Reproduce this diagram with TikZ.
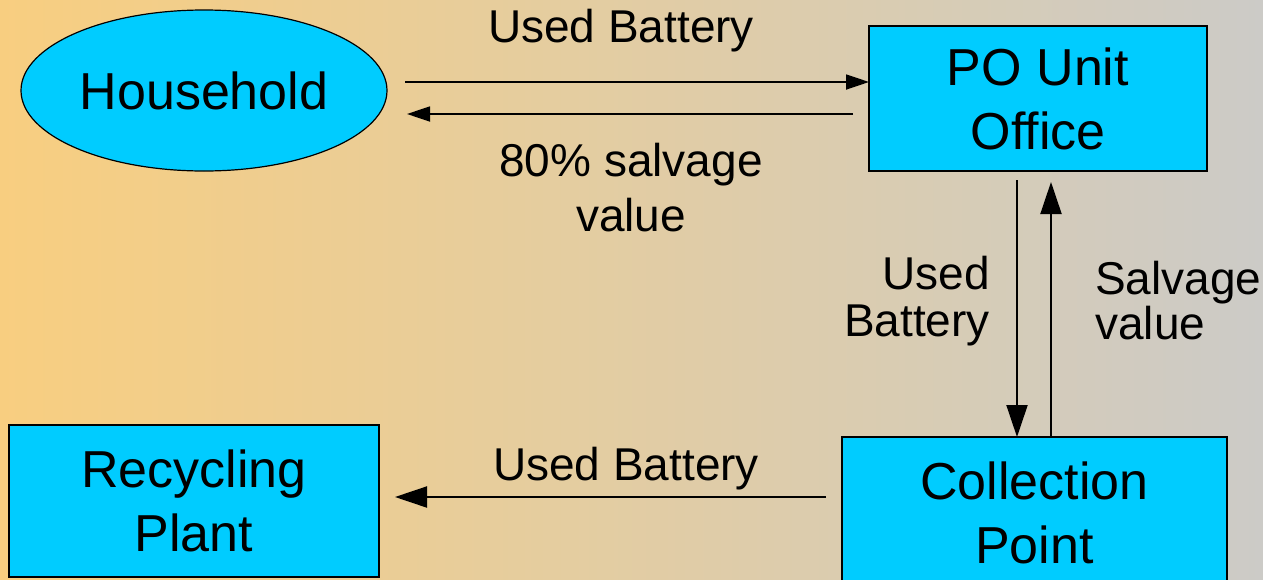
\documentclass[tikz,border=0pt]{standalone}
\usepackage{fontspec}
\setmainfont{Liberation Sans}
\usetikzlibrary{arrows.meta,calc,shapes.geometric}
\definecolor{bgL}{RGB}{248,206,128}
\definecolor{bgR}{RGB}{204,203,199}
\definecolor{boxfill}{RGB}{0,204,255}
\begin{document}
\begin{tikzpicture}[x=1pt,y=-1pt,
  box/.style={draw=black,line width=2.2pt,fill=boxfill,align=center,inner sep=0pt,outer sep=0pt,
    font=\fontsize{52}{64}\selectfont},
  oval/.style={ellipse,draw=black,line width=1.2pt,fill=boxfill,inner sep=0pt,outer sep=0pt,
    font=\fontsize{52}{64}\selectfont},
  lab/.style={inner sep=0pt,font=\fontsize{46}{55}\selectfont},
  arrS/.style={line width=1.8pt,-{Triangle[length=23pt,width=15pt]}},
  arrL/.style={line width=2pt,-{Triangle[length=32pt,width=21pt]}}]
\shade[left color=bgL,right color=bgR] (0,0) rectangle (1263,579);
\useasboundingbox (0,0) rectangle (1263,579);
\clip (0,0) rectangle (1263,579);

\node[oval,minimum width=366pt,minimum height=161pt] (hh) at (204,90.5) {Household};
\node[box,minimum width=338pt,minimum height=145pt] (po) at (1038,98.5) {PO Unit\\Office};
\node[box,minimum width=385pt,minimum height=152pt] (cp) at (1034.5,513) {Collection\\Point};
\node[box,minimum width=370pt,minimum height=152pt] (rp) at (194,501) {Recycling\\Plant};

\node[lab,anchor=base] (l1) at (621,42) {Used Battery};
\node[lab,align=center] (l2) at (631,188) {80\% salvage\\value};
\node[lab,align=right,anchor=east,font=\fontsize{46}{47}\selectfont] (l3) at (990,301.5) {Used\\Battery};
\node[lab,align=left,anchor=west,font=\fontsize{46}{45}\selectfont] (l4) at (1095,300.7) {Salvage\\value};
\node[lab,anchor=base] (l5) at (626,480) {Used Battery};

\draw[arrS] ($(hh.east)+(18,-8.5)$) -- ($(po.west)+(0,-16.5)$);
\draw[arrS] ($(po.west)+(-16,15.5)$) -- ($(hh.east)+(20,23.5)$);
\draw[arrL] ($(po.south)+(-21,9)$) -- ($(cp.north)+(-17.5,0)$);
\draw[arrL] ($(cp.north)+(16.5,0)$) -- ($(po.south)+(13,11)$);
\draw[arrL] ($(cp.west)+(-16,-16)$) -- ($(rp.east)+(16,-4)$);
\end{tikzpicture}
\end{document}
